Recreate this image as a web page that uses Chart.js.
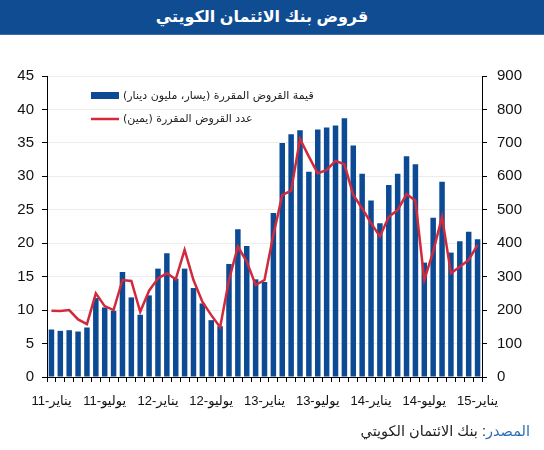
<!DOCTYPE html>
<html>
<head>
<meta charset="utf-8">
<script src="https://cdn.jsdelivr.net/npm/chart.js@4.4.1/dist/chart.umd.min.js"></script>
<style>
  html, body { margin: 0; padding: 0; background: #fff; }
  body { width: 544px; height: 450px; position: relative; overflow: hidden; font-family: "Liberation Sans", "DejaVu Sans", sans-serif; }
  #title { position: absolute; left: 0; top: 0; width: 524px; padding-right: 20px; height: 34px; background: #0f4c92; color: #fff; font: bold 16px "Liberation Sans", "DejaVu Sans", sans-serif; text-align: center; line-height: 33px; border-bottom: 1px solid #3c6ea8; }
  #wrap { position: absolute; left: 0; top: 0; width: 544px; height: 450px; }
  #source { position: absolute; right: 14px; top: 423px; font-size: 14.5px; color: #222; }
  #source span { color: #2b6cb5; }
</style>
</head>
<body>
<div id="wrap"><canvas id="chart" dir="rtl"></canvas></div>
<div id="title" dir="rtl">قروض بنك الائتمان الكويتي</div>
<div id="source" dir="rtl"><span>المصدر</span>: بنك الائتمان الكويتي</div>
<script>
const monthNames = ["يناير", "فبراير", "مارس", "أبريل", "مايو", "يونيو", "يوليو", "أغسطس", "سبتمبر", "أكتوبر", "نوفمبر", "ديسمبر"];
const years = ["11", "12", "13", "14", "15"];

// loan value, million KD (left axis)
const loanValue = [
  7.1, 6.9, 7.0, 6.8, 7.4, 11.8, 10.4, 9.9, 15.7, 11.9, 9.3, 12.2,
  16.2, 18.5, 14.7, 16.2, 13.3, 11.0, 8.5, 7.6, 16.9, 22.1, 19.6, 14.6,
  14.2, 24.5, 35.0, 36.3, 36.9, 30.7, 37.0, 37.3, 37.6, 38.7, 34.6, 30.4,
  26.4, 23.0, 28.7, 30.4, 33.0, 31.8, 17.1, 23.8, 29.2, 18.6, 20.3, 21.7,
  20.6
];

// number of loans (right axis)
const loanCount = [
  198, 197, 200, 172, 158, 250, 212, 200, 290, 287, 195, 258,
  295, 310, 292, 380, 290, 225, 185, 149, 290, 390, 345, 275,
  290, 425, 544, 557, 712, 659, 609, 619, 646, 636, 544, 504,
  460, 420, 479, 499, 547, 527, 290, 375, 479, 310, 330, 350,
  395
];

const seriesNames = ["قيمة القروض المقررة (يسار، مليون دينار)", "عدد القروض المقررة (يمين)"];

const categories = [];
years.forEach((yr) => monthNames.forEach((m) => categories.push(m + "-" + yr)));
categories.length = loanValue.length;

const numFont = { family: "'Liberation Sans', 'DejaVu Sans', sans-serif", size: 15 };

const insideLegend = {
  id: "insideLegend",
  afterDraw(chart) {
    const ctx = chart.ctx;
    const x0 = chart.chartArea.left + 44;
    const y0 = chart.chartArea.top + 20;
    ctx.save();
    ctx.direction = "rtl";
    ctx.font = "11px 'DejaVu Sans', sans-serif";
    ctx.textAlign = "left";
    ctx.textBaseline = "middle";
    const bar = chart.data.datasets[0];
    const line = chart.data.datasets[1];
    ctx.fillStyle = bar.backgroundColor;
    ctx.fillRect(x0, y0 - 4, 28, 7);
    ctx.fillStyle = "#222";
    ctx.fillText(bar.label, x0 + 32, y0);
    ctx.strokeStyle = line.borderColor;
    ctx.lineWidth = 2.5;
    ctx.beginPath();
    ctx.moveTo(x0, y0 + 23);
    ctx.lineTo(x0 + 28, y0 + 23);
    ctx.stroke();
    ctx.fillText(line.label, x0 + 32, y0 + 23);
    ctx.restore();
  }
};

new Chart(document.getElementById("chart"), {
  data: {
    labels: categories,
    datasets: [
      { type: "bar", label: seriesNames[0], data: loanValue, backgroundColor: "#0c4a94", yAxisID: "y", order: 2, categoryPercentage: 1, barPercentage: 0.62 },
      { type: "line", label: seriesNames[1], data: loanCount, borderColor: "#d02a3b", borderWidth: 2.5, pointRadius: 0, tension: 0, yAxisID: "y1", order: 1 }
    ]
  },
  options: {
    responsive: true,
    maintainAspectRatio: false,
    animation: false,
    layout: { padding: { top: 76, left: 0, right: 0, bottom: 0 } },
    plugins: { legend: { display: false }, tooltip: { enabled: false } },
    scales: {
      x: {
        grid: { display: true, drawOnChartArea: false, offset: true, tickLength: 5, tickColor: "#000" },
        border: { color: "#000", width: 1 },
        ticks: {
          autoSkip: false, maxRotation: 0, minRotation: 0, padding: 12, color: "#111",
          font: { family: "'Liberation Sans', 'DejaVu Sans', sans-serif", size: 13 },
          callback: (v, i) => (i % 6 === 0 ? categories[i] : "")
        },
        afterFit: (s) => { s.height = 73; }
      },
      y: {
        position: "left", min: 0, max: 45,
        ticks: { stepSize: 5, color: "#111", font: numFont, padding: 8 },
        grid: { color: "#ececec", tickColor: "#000", tickLength: 5 },
        border: { color: "#000", width: 1 },
        afterFit: (s) => { s.width = 47; }
      },
      y1: {
        position: "right", min: 0, max: 900,
        ticks: { stepSize: 100, color: "#111", font: numFont, padding: 10 },
        grid: { drawOnChartArea: false, tickColor: "#000", tickLength: 5 },
        border: { color: "#000", width: 1 },
        afterFit: (s) => { s.width = 62; }
      }
    }
  },
  plugins: [insideLegend]
});
</script>
</body>
</html>
